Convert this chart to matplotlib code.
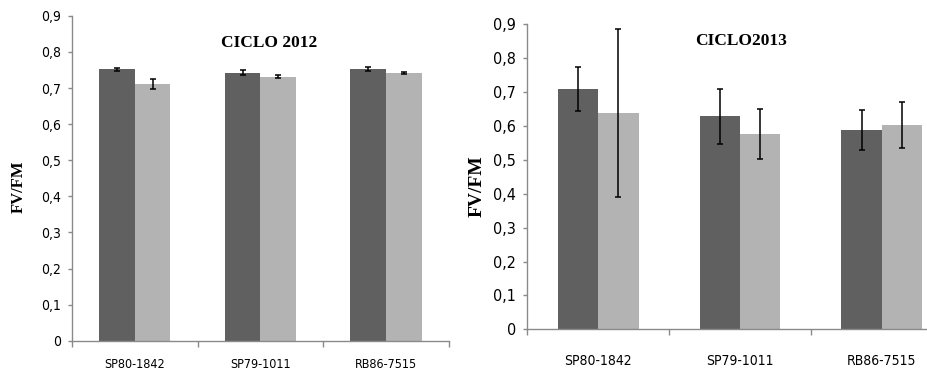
import matplotlib
matplotlib.use("Agg")
import matplotlib.pyplot as plt
import numpy as np

# FV/FM por variedade, dois tratamentos (barras escuras / claras)
variedades = ["SP80-1842", "SP79-1011", "RB86-7515"]
anos = ["CICLO 2012", "CICLO2013"]

fv_2012_escuro = [0.752, 0.742, 0.753]
fv_2012_claro = [0.711, 0.731, 0.742]
err_2012_escuro = [0.004, 0.007, 0.006]
err_2012_claro = [0.013, 0.004, 0.003]

fv_2013_escuro = [0.709, 0.628, 0.587]
fv_2013_claro = [0.637, 0.577, 0.603]
err_2013_escuro = [0.066, 0.081, 0.059]
err_2013_claro = [0.248, 0.074, 0.069]

COR_ESCURO = "#606060"
COR_CLARO = "#b3b3b3"
COR_EIXO = "#8a8a8a"
SANS = "DejaVu Sans"
SERIF = ["Liberation Serif", "DejaVu Serif"]


def desenha(ax, escuro, claro, err_e, err_c, largura, titulo, titulo_xy,
            fs_tick, fs_x, pad_x, fs_ylab, ylab_x):
    x = np.arange(len(variedades))
    ax.bar(x - largura / 2, escuro, largura, color=COR_ESCURO)
    ax.bar(x + largura / 2, claro, largura, color=COR_CLARO)
    ax.errorbar(x - largura / 2, escuro, yerr=err_e, fmt="none", ecolor="black",
                elinewidth=1.1, capsize=2.5, capthick=1.1)
    ax.errorbar(x + largura / 2, claro, yerr=err_c, fmt="none", ecolor="black",
                elinewidth=1.1, capsize=2.5, capthick=1.1)
    ax.set_xlim(-0.5, 2.5)
    ax.set_ylim(0, 0.9)
    ax.set_yticks(np.arange(0, 0.91, 0.1))
    ax.set_yticklabels(["0"] + ["0,%d" % i for i in range(1, 10)],
                       fontsize=fs_tick, family=SANS, fontstretch="condensed")
    ax.set_xticks([-0.5, 0.5, 1.5, 2.5])
    ax.set_xticklabels([])
    ax.set_xticks(x, minor=True)
    ax.set_xticklabels(variedades, minor=True, fontsize=fs_x, family=SANS,
                       fontstretch="condensed")
    ax.tick_params(axis="x", which="minor", length=0, pad=pad_x)
    ax.tick_params(axis="x", which="major", length=4, color=COR_EIXO, width=1)
    ax.tick_params(axis="y", length=3, color=COR_EIXO, width=1, pad=5)
    for s in ["top", "right"]:
        ax.spines[s].set_visible(False)
    for s in ["left", "bottom"]:
        ax.spines[s].set_color(COR_EIXO)
        ax.spines[s].set_linewidth(1)
    ax.figure.text(titulo_xy[0], titulo_xy[1], titulo, ha="center", va="center",
                   fontsize=12.5, fontweight="bold", family=SERIF)
    ax.figure.text(ylab_x, 0.5, "FV/FM", rotation=90, ha="center", va="center",
                   fontsize=fs_ylab, fontweight="bold", family=SERIF)


fig = plt.figure(figsize=(9.28, 3.73), dpi=100)

ax1 = fig.add_axes([0.0776, 0.0866, 0.406, 0.871])
desenha(ax1, fv_2012_escuro, fv_2012_claro, err_2012_escuro, err_2012_claro,
        0.283, anos[0], (269 / 928, 1 - 43 / 373), 10, 9, 12.5, 12, 19 / 928)

# o painel da direita continua para fora da imagem
ax2 = fig.add_axes([0.568, 0.117, 0.4588, 0.818])
desenha(ax2, fv_2013_escuro, fv_2013_claro, err_2013_escuro, err_2013_claro,
        0.285, anos[1], (741 / 928, 1 - 41 / 373), 11.5, 10, 17.5, 14, 477 / 928)

fig.savefig("out.png", dpi=100)
